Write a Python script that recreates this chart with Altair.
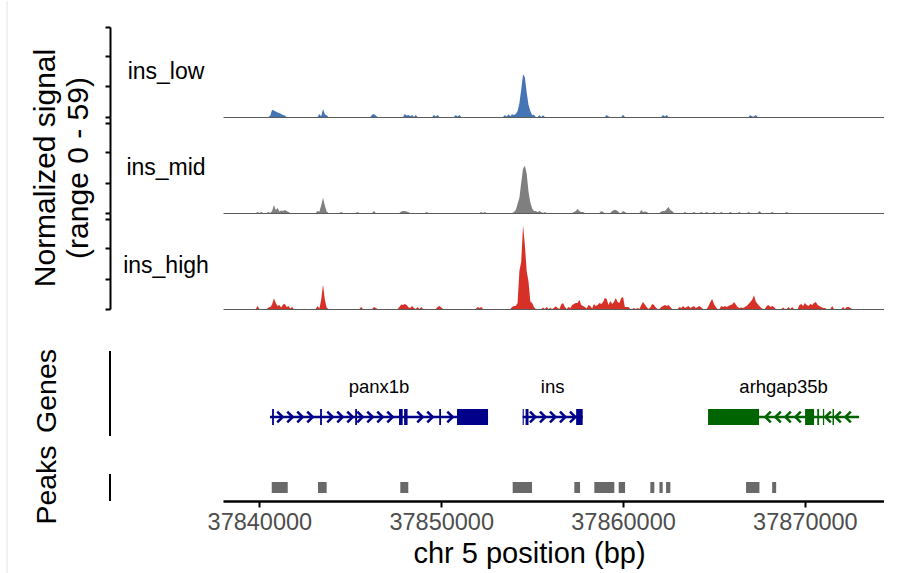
import altair as alt
import numpy as np
import pandas as pd

# ---------------- data ----------------
REGION_START = 37838000
REGION_END = 37874350
BIN = 100

TRACKS = ["ins_low", "ins_mid", "ins_high"]
TRACK_COLORS = ["#4575b4", "#7f7f7f", "#d73027"]

# (bin start in bp, consecutive 100-bp bin values)
LOW_SEGMENTS = [
    (37840600, [1.0, 4.8, 4.2, 3.6, 3.0, 2.6, 2.0, 1.3, 1.0]),
    (37843300, [2.0, 0.5, 5.2, 1.8, 1.2]),
    (37846200, [1.5, 2.0, 1.0]),
    (37848000, [2.0, 1.0, 1.3, 0.5, 1.3, 0.0, 1.3]),
    (37849600, [1.3, 0.3, 1.3]),
    (37850800, [1.3, 0.3, 1.3]),
    (37853500, [1.3, 0.3, 1.8, 0.5, 1.8, 1.3]),
    (37854100, [2.0, 4.0, 9.0, 18.0, 28.0, 26.0, 16.0, 8.0, 4.0, 1.3]),
    (37855100, [1.5, 0.0, 0.0, 1.2, 0.0, 1.2]),
    (37859100, [1.3, 0.3]),
    (37860000, [1.5]),
    (37862200, [1.3, 0.3, 1.3]),
    (37867000, [1.3, 0.3, 0.3, 1.3]),
]
MID_SEGMENTS = [
    (37839900, [0.6, 0.0, 0.6, 0.0, 0.0, 0.0, 0.6]),
    (37840700, [1.3, 5.2, 2.0, 3.3, 1.0, 1.6, 1.3, 2.0, 1.3, 0.6]),
    (37843200, [1.3, 0.8, 5.0, 10.0, 5.0, 1.0]),
    (37844500, [0.6]),
    (37845400, [0.6]),
    (37846300, [1.3]),
    (37847800, [1.0, 1.3, 1.3, 1.0, 0.5]),
    (37849200, [0.6]),
    (37852200, [0.6, 0.0, 0.6]),
    (37854000, [0.6, 2.0, 6.0, 10.0, 20.0, 29.0, 31.0, 26.0, 14.0, 7.0, 3.0, 1.3]),
    (37855200, [1.3, 0.6, 1.3, 0.6, 0.0, 0.6]),
    (37857300, [0.6, 1.3, 2.6, 1.3, 0.6, 0.6]),
    (37858800, [1.3, 0.6]),
    (37859400, [1.3, 2.0, 2.0, 1.3]),
    (37860000, [1.3, 0.6]),
    (37861000, [2.0, 0.6, 1.0, 0.6]),
    (37862100, [1.0, 1.3, 1.3, 2.6, 4.0, 2.0, 1.3]),
    (37863400, [0.6]), (37863900, [0.6]), (37864300, [0.6]), (37864600, [0.6]),
    (37865000, [0.6]), (37865400, [0.6]), (37865900, [0.6]), (37866400, [0.6]),
    (37866900, [0.6]), (37867500, [1.3]), (37868200, [0.6]), (37869000, [0.6]),
]
HIGH_SEGMENTS = [
    (37839900, [2.0]),
    (37840500, [1.0]),
    (37840600, [1.3, 3.0, 7.0, 4.0, 2.0]),
    (37841100, [2.6, 1.0, 3.0, 3.3, 1.3, 2.0, 0.3, 1.3]),
    (37843200, [2.0, 0.3, 6.0, 16.0, 6.0, 1.0]),
    (37845600, [1.3]),
    (37846300, [1.3, 0.6]),
    (37847700, [1.3, 3.0, 2.6, 3.3, 2.6, 1.0, 0.6, 2.0, 0.6, 0.0, 1.3, 0.0, 1.3]),
    (37849800, [1.3, 2.0, 1.0]),
    (37852000, [1.3, 0.6, 1.3]),
    (37853900, [1.3, 2.0, 2.0, 4.0, 25.0, 31.0, 55.0, 42.0, 25.0, 18.0, 5.0, 4.0, 1.3]),
    (37855600, [1.0, 0.0, 1.3, 0.0, 0.6]),
    (37856200, [0.6, 1.8, 0.6]),
    (37856600, [3.0, 4.0, 1.3]),
    (37857000, [1.3, 0.6, 2.6, 3.3, 4.0, 4.0, 6.0, 2.6, 2.0, 1.3, 0.3, 2.6, 2.0, 0.3]),
    (37858400, [3.3, 2.0, 2.6, 4.0, 3.3, 4.6, 7.2, 6.6, 2.6, 5.2, 3.3, 4.6, 7.2, 4.6, 4.0, 7.2, 7.9, 1.3]),
    (37860200, [1.3, 1.3]),
    (37860600, [0.6, 0.0, 0.6]),
    (37861000, [2.6, 4.6, 3.0, 1.3]),
    (37861500, [1.0, 3.3, 2.6, 1.0]),
    (37862100, [1.3, 2.0, 2.6, 2.0, 2.6, 1.3]),
    (37863000, [0.0, 1.3, 0.6, 2.0, 0.6, 1.3, 2.0, 0.6, 1.3, 2.0, 0.6, 1.3, 2.0, 1.0, 0.0]),
    (37864700, [2.0, 4.6, 6.6, 3.3, 1.3]),
    (37865400, [2.0, 1.3, 2.0, 1.3, 2.0, 2.6, 3.0, 4.6, 3.0, 1.3, 0.6, 1.0]),
    (37866600, [0.6, 1.3, 2.0, 3.3, 4.6, 6.0, 9.0, 5.0, 3.3, 2.0, 0.6]),
    (37867900, [2.0, 2.6, 1.3, 2.0, 1.3]),
    (37868800, [1.0, 0.0, 0.0, 1.3, 0.0, 1.3]),
    (37869700, [2.6, 3.3, 2.0, 4.0, 2.6, 2.0, 3.3, 2.6, 4.0, 4.6, 2.6, 2.0, 1.3, 0.6, 0.6]),
    (37871500, [2.0]),
    (37872100, [1.3, 0.0, 1.3, 1.3, 0.6]),
]

GENE_NAMES = ["panx1b", "ins", "arhgap35b"]
GENE_START = [37840585, 37854480, 37864675]
GENE_END = [37852575, 37857780, 37872980]
GENE_STRAND = ["+", "+", "-"]
GENE_COLORS = ["#00008B", "#00008B", "#006400"]

EXON_GENE = ["panx1b"] * 7 + ["ins"] * 3 + ["arhgap35b"] * 5
EXON_START = [37840700, 37843340, 37845270, 37847680, 37847960, 37849890, 37850870,
              37854480, 37854640, 37857420,
              37864675, 37870010, 37870680, 37870990, 37871520]
EXON_END = [37840800, 37843440, 37845370, 37847880, 37848150, 37849990, 37852575,
            37854540, 37854800, 37857780,
            37867480, 37870505, 37870780, 37871060, 37871600]

PEAK_START = [37840680, 37843225, 37847750, 37853930, 37857320, 37858420, 37859760,
              37861500, 37862000, 37862365, 37866765, 37868200]
PEAK_END = [37841560, 37843700, 37848190, 37854995, 37857635, 37859520, 37860110,
            37861720, 37862180, 37862600, 37867500, 37868420]

X_TICKS = [37840000, 37850000, 37860000, 37870000]
Y_TICKS = [0, 20, 40, 59]

# ---------------- layout constants ----------------
W = 661
AXIS_OFF = 113
FONT = "Liberation Sans"
TITLE_SIZE = 30
PANEL_TITLE_SIZE = 28.5
CHEVRON_STEP = 550
ARROW_R = "M-0.5,-1L0.5,0L-0.5,1"
ARROW_L = "M0.5,-1L-0.5,0L0.5,1"


def coverage_frame(segments):
    grid = np.arange(REGION_START, REGION_END, BIN).tolist()
    vals = dict.fromkeys(grid, 0.0)
    for start, values in segments:
        for k, v in enumerate(values):
            vals[start + BIN * k] = v
    return pd.DataFrame({"pos": list(vals.keys()), "value": list(vals.values())})


xscale = alt.Scale(domain=[REGION_START, REGION_END], nice=False, zero=False)
one = pd.DataFrame({"a": [0]})


def text_layer(txt, x, y, size, angle=0):
    kw = dict(fontSize=size, align="center", baseline="middle", color="black")
    if angle:
        kw["angle"] = angle
    return alt.Chart(pd.DataFrame({"t": [txt]})).mark_text(**kw).encode(
        x=alt.value(x), y=alt.value(y), text="t:N")


def track(segments, color, name, ymax, height, label_y, extra=()):
    df = coverage_frame(segments)
    area = alt.Chart(df).mark_area(color=color, interpolate="linear").encode(
        x=alt.X("pos:Q", scale=xscale,
                axis=alt.Axis(labels=False, ticks=False, title=None, grid=False,
                              domainColor="#5a5a5a", domainWidth=1)),
        y=alt.Y("value:Q", scale=alt.Scale(domain=[0, ymax], nice=False, zero=True),
                axis=alt.Axis(offset=AXIS_OFF, values=Y_TICKS, labels=False, title=None,
                              grid=False, domainColor="black", domainWidth=2,
                              tickColor="black", tickWidth=2, tickSize=5)),
    )
    layers = [area, text_layer(name, -57, label_y, 23)] + list(extra)
    return alt.layer(*layers).properties(width=W, height=height)


anchor = alt.Chart(one).mark_rule(color="white", strokeWidth=1).encode(
    x=alt.value(-222), x2=alt.value(-221), y=alt.value(-26))

t1 = track(LOW_SEGMENTS, TRACK_COLORS[0], TRACKS[0], 59, 90, 45, [anchor])
t2 = track(MID_SEGMENTS, TRACK_COLORS[1], TRACKS[1], 63, 96, 51, [
    text_layer("Normalized signal", -177, 51, TITLE_SIZE, 270),
    text_layer("(range 0 - 59)", -144, 51, TITLE_SIZE, 270),
])
t3 = track(HIGH_SEGMENTS, TRACK_COLORS[2], TRACKS[2], 63, 96, 53)

# ---------------- genes ----------------
gene_df = pd.DataFrame({
    "name": GENE_NAMES, "start": GENE_START, "end": GENE_END,
    "strand": GENE_STRAND, "color": GENE_COLORS,
})
gene_df["mid"] = (gene_df["start"] + gene_df["end"]) / 2
color_of = dict(zip(GENE_NAMES, GENE_COLORS))
exon_df = pd.DataFrame({"gene": EXON_GENE, "start": EXON_START, "end": EXON_END})
exon_df["color"] = exon_df["gene"].map(color_of)

chev_rows = []
for name, s, e, strand, col in zip(GENE_NAMES, GENE_START, GENE_END, GENE_STRAND, GENE_COLORS):
    ex = [(a, b) for g, a, b in zip(EXON_GENE, EXON_START, EXON_END) if g == name]
    p = s + CHEVRON_STEP
    while p < e - 100:
        if not any(a - 150 <= p <= b + 150 for a, b in ex):
            chev_rows.append({"pos": p, "color": col,
                              "shape": ARROW_R if strand == "+" else ARROW_L})
        p += CHEVRON_STEP
chev_df = pd.DataFrame(chev_rows)

GENE_Y = 108
gx = lambda f: alt.X(f, scale=xscale, axis=None)
body = alt.Chart(gene_df).mark_rule(strokeWidth=2.5).encode(
    x=gx("start:Q"), x2="end:Q", y=alt.value(GENE_Y),
    color=alt.Color("color:N", scale=None))
exons = alt.Chart(exon_df).mark_rect().encode(
    x=gx("start:Q"), x2="end:Q", y=alt.value(GENE_Y - 8), y2=alt.value(GENE_Y + 8),
    color=alt.Color("color:N", scale=None))
chevs = alt.Chart(chev_df).mark_point(filled=False, strokeWidth=2.5, size=120, opacity=1).encode(
    x=gx("pos:Q"), y=alt.value(GENE_Y),
    shape=alt.Shape("shape:N", scale=None),
    color=alt.Color("color:N", scale=None))
glabels = alt.Chart(gene_df).mark_text(fontSize=18.5, baseline="middle", align="center",
                                       color="black").encode(
    x=gx("mid:Q"), y=alt.value(78), text="name:N")
gline = alt.Chart(one).mark_rule(color="black", strokeWidth=2).encode(
    x=alt.value(-AXIS_OFF), y=alt.value(42), y2=alt.value(127))
genes = alt.layer(body, exons, chevs, glabels, gline,
                  text_layer("Genes", -176, 82, PANEL_TITLE_SIZE, 270)).properties(width=W, height=127)

# ---------------- peaks ----------------
peak_df = pd.DataFrame({"start": PEAK_START, "end": PEAK_END})
prect = alt.Chart(peak_df).mark_rect(color="#696969").encode(
    x=alt.X("start:Q", scale=xscale,
            axis=alt.Axis(values=X_TICKS, format="d", title="chr 5 position (bp)",
                          labelFontSize=23.5, labelColor="#4d4d4d", titleFontSize=29,
                          titleColor="black", titleFontWeight="normal",
                          titleX=306, titleAlign="center",
                          domainColor="black", domainWidth=2.5, tickColor="black",
                          tickWidth=2, tickSize=6, labelPadding=3, titlePadding=6,
                          grid=False)),
    x2="end:Q", y=alt.value(46), y2=alt.value(57))
pline = alt.Chart(one).mark_rule(color="black", strokeWidth=2).encode(
    x=alt.value(-AXIS_OFF), y=alt.value(38), y2=alt.value(65))
border = alt.Chart(one).mark_rule(color="#e3e3e3", strokeWidth=1).encode(
    x=alt.value(-216), y=alt.value(-435), y2=alt.value(138))
peaks = alt.layer(prect, pline, border,
                  text_layer("Peaks", -176, 49, PANEL_TITLE_SIZE, 270)).properties(
    width=W, height=65)

chart = alt.vconcat(t1, t2, t3, genes, peaks, spacing=0, bounds="flush").resolve_scale(
    y="independent").properties(padding=0).configure(font=FONT).configure_view(strokeWidth=0)

chart.save("out.html", embed_options={"renderer": "svg", "actions": False})
